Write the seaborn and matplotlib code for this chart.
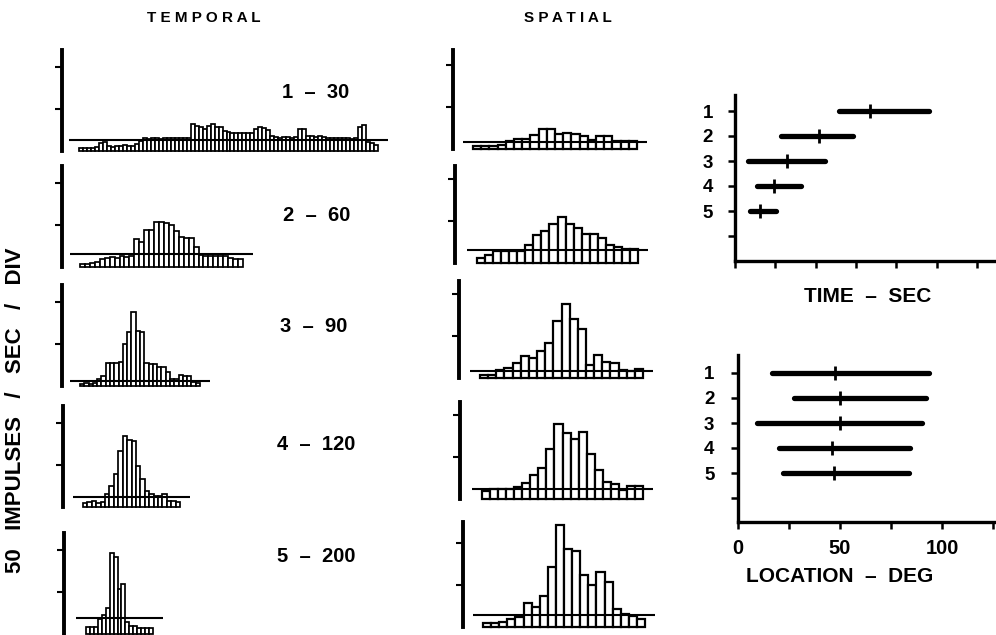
import numpy as np
import matplotlib
matplotlib.use("Agg")
import matplotlib.pyplot as plt
import seaborn as sns

# ---- Response histograms (bar height in divisions; 1 div = 50 impulses/sec) ----
temporal_1 = [0.07, 0.06, 0.08, 0.07, 0.09, 0.20, 0.22, 0.13, 0.10, 0.12,
              0.11, 0.14, 0.12, 0.13, 0.16, 0.25, 0.30, 0.28, 0.30, 0.31,
              0.29, 0.30, 0.32, 0.30, 0.31, 0.30, 0.32, 0.30, 0.64, 0.60,
              0.56, 0.52, 0.60, 0.64, 0.58, 0.56, 0.48, 0.45, 0.42, 0.42,
              0.43, 0.42, 0.44, 0.42, 0.52, 0.56, 0.55, 0.50, 0.36, 0.33,
              0.32, 0.34, 0.33, 0.32, 0.34, 0.53, 0.52, 0.36, 0.35, 0.34,
              0.36, 0.33, 0.32, 0.30, 0.31, 0.30, 0.32, 0.30, 0.28, 0.30,
              0.58, 0.62, 0.22, 0.18, 0.15]
temporal_2 = [0.06, 0.08, 0.10, 0.12, 0.20, 0.22, 0.24, 0.22, 0.25, 0.24,
              0.26, 0.66, 0.60, 0.88, 0.88, 1.07, 1.06, 1.04, 1.00, 0.86,
              0.72, 0.69, 0.69, 0.48, 0.28, 0.26, 0.27, 0.25, 0.26, 0.27,
              0.22, 0.20, 0.18]
temporal_3 = [0.05, 0.06, 0.05, 0.07, 0.17, 0.25, 0.55, 0.55, 0.54, 0.56,
              1.00, 1.28, 1.76, 1.32, 1.28, 0.54, 0.52, 0.52, 0.45, 0.45,
              0.33, 0.17, 0.17, 0.27, 0.25, 0.23, 0.10, 0.08]
temporal_4 = [0.10, 0.12, 0.14, 0.10, 0.13, 0.30, 0.50, 0.78, 1.34, 1.70,
              1.60, 1.58, 0.98, 0.66, 0.38, 0.30, 0.26, 0.26, 0.30, 0.14,
              0.15, 0.12]
temporal_5 = [0.16, 0.16, 0.16, 0.36, 0.46, 0.62, 1.92, 1.84, 1.08, 1.20,
              0.28, 0.20, 0.18, 0.14, 0.14, 0.14, 0.14]

spatial_1 = [0.08, 0.08, 0.08, 0.10, 0.20, 0.24, 0.24, 0.34, 0.48, 0.48,
             0.36, 0.38, 0.36, 0.30, 0.22, 0.30, 0.30, 0.20, 0.18, 0.18]
spatial_2 = [0.12, 0.20, 0.28, 0.28, 0.28, 0.28, 0.44, 0.66, 0.76, 0.94,
             1.10, 0.92, 0.84, 0.68, 0.68, 0.60, 0.42, 0.38, 0.34, 0.34]
spatial_3 = [0.06, 0.08, 0.20, 0.23, 0.36, 0.52, 0.48, 0.64, 0.84, 1.36,
             1.76, 1.40, 1.16, 0.32, 0.54, 0.38, 0.36, 0.20, 0.16, 0.22]
spatial_4 = [0.18, 0.24, 0.24, 0.24, 0.29, 0.38, 0.56, 0.74, 1.20, 1.78,
             1.58, 1.44, 1.60, 1.06, 0.70, 0.40, 0.36, 0.21, 0.30, 0.32]
spatial_5 = [0.10, 0.10, 0.12, 0.20, 0.24, 0.58, 0.48, 0.74, 1.42, 2.42,
             1.86, 1.80, 1.24, 1.00, 1.32, 1.08, 0.42, 0.30, 0.26, 0.20]

# spontaneous (background) level drawn across each histogram, in divisions
temporal_spont = [0.27, 0.30, 0.13, 0.24, 0.38]
spatial_spont = [0.17, 0.32, 0.16, 0.24, 0.28]

# trial number - stimulus velocity (deg/sec)
trial_labels = ["1  \u2013  30", "2  \u2013  60", "3  \u2013  90", "4  \u2013  120", "5  \u2013  200"]
trial_ids = [1, 2, 3, 4, 5]
row_labels = ["1", "2", "3", "4", "5", ""]

# response extent and centre in time (axis divisions) and in location (deg)
time_start = [2.58, 1.14, 0.32, 0.55, 0.37]
time_end = [4.81, 2.93, 2.23, 1.64, 1.02]
time_mid = [3.35, 2.08, 1.29, 0.97, 0.62]
loc_start = [16.5, 27.6, 9.1, 20.2, 22.2]
loc_end = [93.5, 92.2, 90.0, 84.3, 83.8]
loc_mid = [47.5, 50.0, 50.0, 46.2, 47.2]
loc_ticks = [0, 25, 50, 75, 100, 125]
loc_ticklabels = ["0", "", "50", "", "100", ""]

# ---- figure set-up ----
sns.set_theme(style="ticks")
plt.rcParams["font.family"] = ["Liberation Sans", "DejaVu Sans"]
plt.rcParams["font.weight"] = "bold"
for key in ("text.color", "axes.labelcolor", "xtick.color", "ytick.color",
            "axes.edgecolor", "xtick.labelcolor", "ytick.labelcolor"):
    plt.rcParams[key] = "black"

W, H = 996, 635
DIV = 42.0  # pixels per division on the histogram axes

fig = plt.figure(figsize=(W / 100, H / 100), dpi=100)
fig.patch.set_facecolor("white")


def px_axes(left, top, right, bottom):
    return fig.add_axes([left / W, 1 - bottom / H, (right - left) / W, (bottom - top) / H])


def draw_histogram(heights, spont, spine_x, zero_y, bar_l, bar_r, y_top, edge_lw):
    n = len(heights)
    bw = (bar_r - bar_l) / n
    below = 4.0
    right = bar_r + 16
    ax = px_axes(spine_x, zero_y - y_top * DIV, right, zero_y + below)
    ax.patch.set_alpha(0)
    sns.barplot(x=np.arange(n), y=heights, color="white", edgecolor="black",
                linewidth=edge_lw, width=1.0, saturation=1, errorbar=None, ax=ax)
    ax.set_xlim(-0.5 - (bar_l - spine_x) / bw, -0.5 + (right - bar_l) / bw)
    ax.set_ylim(-below / DIV, y_top)
    ext = 10.0 / bw
    ax.hlines(spont, -0.5 - ext, n - 0.5 + ext, color="black", lw=1.5, zorder=4)
    for s in ("top", "right", "bottom"):
        ax.spines[s].set_visible(False)
    ax.spines["left"].set_linewidth(2.8)
    ax.spines["left"].set_color("black")
    ax.spines["left"].set_bounds(0, y_top)
    ax.set_xticks([])
    ax.set_yticks([1, 2])
    ax.tick_params(axis="y", left=True, length=5, width=1.5, labelleft=False,
                   direction="out", color="black")
    ax.set_xlabel("")
    ax.set_ylabel("")
    return ax


temporal = [temporal_1, temporal_2, temporal_3, temporal_4, temporal_5]
spatial = [spatial_1, spatial_2, spatial_3, spatial_4, spatial_5]

# layout: spine x, zero y, first bar left, last bar right, axis top (div)
temporal_layout = [(62, 151, 79, 378, 2.4), (62, 267, 80, 243, 2.4),
                   (62, 386, 80, 200, 2.4), (63, 507, 83, 180, 2.4),
                   (64, 634, 86, 153, 2.4)]
spatial_layout = [(453, 149, 473, 637, 2.35), (455, 263, 477, 638, 2.3),
                  (459, 378, 480, 643, 2.3), (460, 499, 482, 643, 2.3),
                  (463, 627, 483, 645, 2.5)]

for data, spont, lay in zip(temporal, temporal_spont, temporal_layout):
    draw_histogram(data, spont, *lay, edge_lw=1.25)
for data, spont, lay in zip(spatial, spatial_spont, spatial_layout):
    draw_histogram(data, spont, *lay, edge_lw=1.6)

label_pos = [(316, 92), (317, 215), (314, 327), (316, 445), (316, 556)]
for txt, (x, y) in zip(trial_labels, label_pos):
    fig.text(x / W, 1 - y / H, txt, ha="center", va="center", fontsize=14.5,
             fontweight="bold", color="black")

fig.text(204 / W, 1 - 18 / H, "T E M P O R A L", ha="center", va="center",
         fontsize=11, fontweight="bold", color="black")
fig.text(568 / W, 1 - 18 / H, "S P A T I A L", ha="center", va="center",
         fontsize=11, fontweight="bold", color="black")
fig.text(16 / W, 1 - 410 / H, "50   IMPULSES   /   SEC   /   DIV", ha="center", va="center",
         rotation=90, fontsize=16, fontweight="bold", color="black")


def style_range_axes(ax):
    ax.patch.set_alpha(0)
    ax.spines["top"].set_visible(False)
    ax.spines["right"].set_visible(False)
    for s in ("left", "bottom"):
        ax.spines[s].set_linewidth(2.4)
        ax.spines[s].set_color("black")
    ax.set_xlabel("")
    ax.set_ylabel("")


# ---- response extent in time ----
ax_t = px_axes(735, 95, 996, 261)
ax_t.hlines(trial_ids, time_start, time_end, color="black", lw=3.8, capstyle="round")
sns.scatterplot(x=time_mid, y=trial_ids, marker="|", s=90, color="black",
                linewidth=2.0, legend=False, ax=ax_t, zorder=3)
ax_t.set_xlim(0, (996 - 735) / 40.3)
ax_t.set_ylim(7.0, 0.36)
style_range_axes(ax_t)
ax_t.set_yticks(range(1, 7))
ax_t.set_yticklabels(row_labels)
ax_t.set_xticks(range(0, 7))
ax_t.set_xticklabels([])
ax_t.tick_params(axis="y", length=5, width=1.8, pad=11, labelsize=13.5)
ax_t.tick_params(axis="x", length=5, width=1.8)
fig.text(868 / W, 1 - 297 / H, "TIME  \u2013  SEC", ha="center", va="center",
         fontsize=15, fontweight="bold", color="black")

# ---- response extent in location ----
ax_l = px_axes(738, 355, 996, 522)
ax_l.hlines(trial_ids, loc_start, loc_end, color="black", lw=3.8, capstyle="round")
sns.scatterplot(x=loc_mid, y=trial_ids, marker="|", s=90, color="black",
                linewidth=2.0, legend=False, ax=ax_l, zorder=3)
ax_l.set_xlim(0, (996 - 738) / 2.04)
ax_l.set_ylim(6.96, 0.28)
style_range_axes(ax_l)
ax_l.set_yticks(range(1, 7))
ax_l.set_yticklabels(row_labels)
ax_l.set_xticks(loc_ticks)
ax_l.set_xticklabels(loc_ticklabels)
ax_l.tick_params(axis="y", length=5, width=1.8, pad=12, labelsize=13.5)
ax_l.tick_params(axis="x", length=5, width=1.8, pad=7, labelsize=14.5)
fig.text(840 / W, 1 - 577 / H, "LOCATION  \u2013  DEG", ha="center", va="center",
         fontsize=15, fontweight="bold", color="black")

fig.savefig("out.png", dpi=100, facecolor="white")
